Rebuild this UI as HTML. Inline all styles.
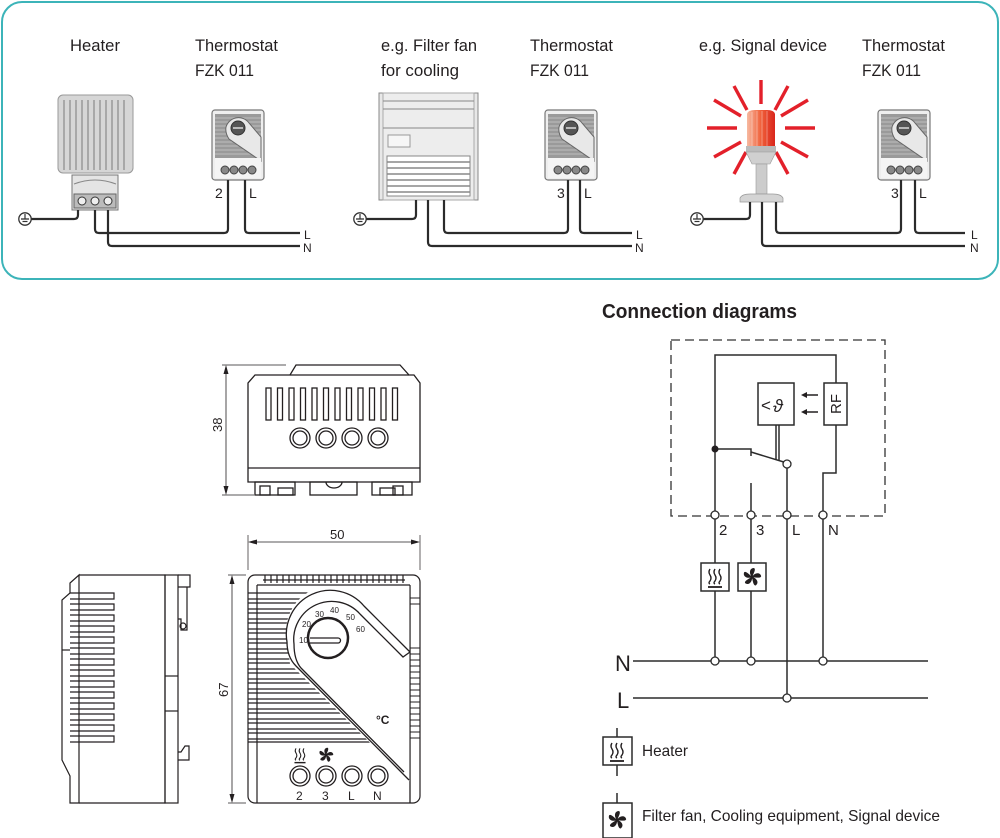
<!DOCTYPE html>
<html><head><meta charset="utf-8"><style>
html,body{margin:0;padding:0;background:#fff}
svg{display:block}
text{font-family:"Liberation Sans",sans-serif;fill:#231f20}
</style></head><body>
<svg width="1000" height="838" viewBox="0 0 1000 838" xmlns="http://www.w3.org/2000/svg">
<defs>
<linearGradient id="red" x1="0" x2="1" y1="0" y2="0">
<stop offset="0" stop-color="#f7b9a0"/><stop offset="0.5" stop-color="#f0603a"/><stop offset="1" stop-color="#d9261c"/>
</linearGradient>
<symbol id="th" viewBox="0 0 54 72" width="54" height="72">
<rect x="1" y="1" width="52" height="70" rx="3" fill="#eee" stroke="#777" stroke-width="1.2"/>
<rect x="4" y="5" width="46" height="44" fill="#9a9a9a"/>
<g stroke="#c8c8c8" stroke-width="0.8">
<line x1="4" y1="9" x2="50" y2="9"/><line x1="4" y1="13" x2="50" y2="13"/><line x1="4" y1="17" x2="50" y2="17"/><line x1="4" y1="21" x2="50" y2="21"/><line x1="4" y1="25" x2="50" y2="25"/><line x1="4" y1="29" x2="50" y2="29"/><line x1="4" y1="33" x2="50" y2="33"/><line x1="4" y1="37" x2="50" y2="37"/><line x1="4" y1="41" x2="50" y2="41"/><line x1="4" y1="45" x2="50" y2="45"/>
</g>
<path d="M18,30 Q14,24 15,18 A13 13 0 0 1 38,14 L50,28 L50,52 Z" fill="#e8e8e8" stroke="#666" stroke-width="1"/>
<circle cx="27" cy="19" r="7" fill="#555" stroke="#333"/>
<line x1="22" y1="19" x2="32" y2="19" stroke="#ddd" stroke-width="1.5"/>
<rect x="4" y="49" width="46" height="20" fill="#f4f4f4"/>
<circle cx="14" cy="61" r="4" fill="#888" stroke="#444"/><circle cx="23" cy="61" r="4" fill="#888" stroke="#444"/><circle cx="32" cy="61" r="4" fill="#888" stroke="#444"/><circle cx="41" cy="61" r="4" fill="#888" stroke="#444"/>
</symbol>
<symbol id="gnd" viewBox="-8 -8 16 16" width="16" height="16">
<circle cx="0" cy="0" r="6.2" fill="#fff" stroke="#333" stroke-width="1.3"/>
<line x1="-4" y1="0" x2="4" y2="0" stroke="#333" stroke-width="1.3"/>
<line x1="-2.5" y1="2.5" x2="2.5" y2="2.5" stroke="#333" stroke-width="1.2"/>
<line x1="0" y1="-5" x2="0" y2="0" stroke="#333" stroke-width="1.2"/>
</symbol>
<symbol id="heat" viewBox="0 0 20 24" width="20" height="24">
<g fill="none" stroke="#231f20" stroke-width="1.4">
<path d="M5,3 q-2,3 0,6 q2,3 0,6 q-2,2 0,3"/><path d="M10,3 q-2,3 0,6 q2,3 0,6 q-2,2 0,3"/><path d="M15,3 q-2,3 0,6 q2,3 0,6 q-2,2 0,3"/>
<line x1="3" y1="21" x2="17" y2="21" stroke-width="1.8"/>
</g>
</symbol>
<symbol id="fan" viewBox="-10 -10 20 20" width="20" height="20">
<g fill="#231f20">
<circle r="1.8"/>
<path d="M0,0 C-3,-3 -3,-9 2,-9 C4,-8 2,-4 0,0Z"/>
<path d="M0,0 C-3,-3 -3,-9 2,-9 C4,-8 2,-4 0,0Z" transform="rotate(72)"/>
<path d="M0,0 C-3,-3 -3,-9 2,-9 C4,-8 2,-4 0,0Z" transform="rotate(144)"/>
<path d="M0,0 C-3,-3 -3,-9 2,-9 C4,-8 2,-4 0,0Z" transform="rotate(216)"/>
<path d="M0,0 C-3,-3 -3,-9 2,-9 C4,-8 2,-4 0,0Z" transform="rotate(288)"/>
</g>
</symbol>
</defs>

<rect x="2" y="2" width="996" height="277" rx="20" fill="#fff" stroke="#3cb4b9" stroke-width="2"/>

<g font-size="17">
<text x="70" y="51" textLength="50" lengthAdjust="spacingAndGlyphs">Heater</text>
<text x="195" y="51" textLength="83" lengthAdjust="spacingAndGlyphs">Thermostat</text><text x="195" y="76" textLength="59" lengthAdjust="spacingAndGlyphs">FZK 011</text>
<text x="381" y="51" textLength="96" lengthAdjust="spacingAndGlyphs">e.g. Filter fan</text><text x="381" y="76" textLength="78" lengthAdjust="spacingAndGlyphs">for cooling</text>
<text x="530" y="51" textLength="83" lengthAdjust="spacingAndGlyphs">Thermostat</text><text x="530" y="76" textLength="59" lengthAdjust="spacingAndGlyphs">FZK 011</text>
<text x="699" y="51" textLength="128" lengthAdjust="spacingAndGlyphs">e.g. Signal device</text>
<text x="862" y="51" textLength="83" lengthAdjust="spacingAndGlyphs">Thermostat</text><text x="862" y="76" textLength="59" lengthAdjust="spacingAndGlyphs">FZK 011</text>
</g>

<rect x="58" y="95" width="75" height="78" rx="5" fill="#d6d6d6" stroke="#999"/>
<g stroke="#8a8a8a" stroke-width="1.2">
<line x1="64" y1="100" x2="64" y2="170"/><line x1="70" y1="100" x2="70" y2="170"/><line x1="76" y1="100" x2="76" y2="170"/><line x1="82" y1="100" x2="82" y2="170"/><line x1="88" y1="100" x2="88" y2="170"/><line x1="94" y1="100" x2="94" y2="170"/><line x1="100" y1="100" x2="100" y2="170"/><line x1="106" y1="100" x2="106" y2="170"/><line x1="112" y1="100" x2="112" y2="170"/><line x1="118" y1="100" x2="118" y2="170"/><line x1="124" y1="100" x2="124" y2="170"/>
</g>
<path d="M72,175 L118,175 L118,210 L72,210 Z" fill="#e4e4e4" stroke="#777"/>
<path d="M74,184 Q95,176 116,184" fill="none" stroke="#888"/>
<rect x="74" y="194" width="42" height="14" fill="#bbb" stroke="#666"/>
<g fill="#eee" stroke="#333"><circle cx="82" cy="201" r="4"/><circle cx="95" cy="201" r="4"/><circle cx="108" cy="201" r="4"/></g>

<rect x="379" y="93" width="99" height="107" fill="#e8e8e8" stroke="#888"/>
<rect x="383" y="93" width="91" height="107" fill="#ededed" stroke="#aaa"/>
<line x1="383" y1="101" x2="474" y2="101" stroke="#888"/><line x1="383" y1="109" x2="474" y2="109" stroke="#888"/><line x1="383" y1="128" x2="474" y2="128" stroke="#888"/>
<rect x="388" y="135" width="22" height="12" fill="#f6f6f6" stroke="#999"/>
<rect x="387" y="156" width="83" height="40" fill="#fff" stroke="#888"/>
<g stroke="#888" stroke-width="1.5"><line x1="387" y1="162" x2="470" y2="162"/><line x1="387" y1="168" x2="470" y2="168"/><line x1="387" y1="174" x2="470" y2="174"/><line x1="387" y1="180" x2="470" y2="180"/><line x1="387" y1="186" x2="470" y2="186"/><line x1="387" y1="192" x2="470" y2="192"/></g>

<g stroke="#e3202a" stroke-width="3.4" stroke-linecap="butt">
<line x1="761" y1="80" x2="761" y2="104"/>
<line x1="734" y1="86" x2="747" y2="110"/><line x1="788" y1="86" x2="775" y2="110"/>
<line x1="714" y1="100" x2="741" y2="116"/><line x1="808" y1="100" x2="781" y2="116"/>
<line x1="707" y1="128" x2="737" y2="128"/><line x1="815" y1="128" x2="785" y2="128"/>
<line x1="714" y1="157" x2="741" y2="142"/><line x1="808" y1="157" x2="781" y2="142"/>
<line x1="734" y1="174" x2="746" y2="152"/><line x1="788" y1="174" x2="776" y2="152"/>
</g>
<path d="M747,114 Q748,110 755,110 L767,110 Q774,110 775,114 L775,146 L747,146 Z" fill="url(#red)"/>
<g stroke="#fff" stroke-opacity="0.35"><line x1="752" y1="112" x2="752" y2="146"/><line x1="757" y1="111" x2="757" y2="146"/><line x1="762" y1="111" x2="762" y2="146"/><line x1="767" y1="111" x2="767" y2="146"/></g>
<rect x="746" y="146" width="30" height="6" fill="#bbb"/>
<path d="M746,152 L776,152 L770,164 L752,164 Z" fill="#d0d0d0" stroke="#999" stroke-width="0.6"/>
<rect x="756" y="164" width="11" height="30" fill="#ccc" stroke="#999" stroke-width="0.6"/>
<path d="M740,198 Q742,194 750,194 L773,194 Q781,194 783,198 L783,202 L740,202 Z" fill="#d4d4d4" stroke="#999" stroke-width="0.7"/>

<use href="#th" x="211" y="109"/>
<use href="#th" x="544" y="109"/>
<use href="#th" x="877" y="109"/>

<g fill="none" stroke="#2b2b2b" stroke-width="2.2">
<path d="M31,219 L74,219 Q78,219 78,215 L78,210"/>
<path d="M95,210 L95,229 Q95,233 99,233 L224,233 Q228,233 228,229 L228,180"/>
<path d="M108,210 L108,242 Q108,246 112,246 L300,246"/>
<path d="M245,180 L245,229 Q245,233 249,233 L300,233"/>
<path d="M366,219 L412,219 Q416,219 416,215 L416,200"/>
<path d="M428,200 L428,242 Q428,246 432,246 L632,246"/>
<path d="M444,200 L444,229 Q444,233 448,233 L564,233 Q568,233 568,229 L568,180"/>
<path d="M580,180 L580,229 Q580,233 584,233 L632,233"/>
<path d="M703,219 L746,219 Q750,219 750,215 L750,202"/>
<path d="M762,202 L762,242 Q762,246 766,246 L965,246"/>
<path d="M776,202 L776,229 Q776,233 780,233 L897,233 Q901,233 901,229 L901,180"/>
<path d="M915,180 L915,229 Q915,233 919,233 L965,233"/>
</g>
<use href="#gnd" x="17" y="211"/><use href="#gnd" x="352" y="211"/><use href="#gnd" x="689" y="211"/>
<g font-size="14">
<text x="215" y="198">2</text><text x="249" y="198">L</text>
<text x="557" y="198">3</text><text x="584" y="198">L</text>
<text x="891" y="198">3</text><text x="919" y="198">L</text>
</g>
<g font-size="12">
<text x="304" y="239">L</text><text x="303" y="252">N</text>
<text x="636" y="239">L</text><text x="635" y="252">N</text>
<text x="971" y="239">L</text><text x="970" y="252">N</text>
</g>

<text x="602" y="318" font-size="20" font-weight="bold" textLength="195" lengthAdjust="spacingAndGlyphs">Connection diagrams</text>
<rect x="671" y="340" width="214" height="176" fill="none" stroke="#333" stroke-width="1.3" stroke-dasharray="9,5"/>
<g fill="none" stroke="#2b2b2b" stroke-width="1.5">
<path d="M715,449 L715,355 L836,355 L836,383"/>
<rect x="824" y="383" width="23" height="42"/>
<rect x="758" y="383" width="36" height="42"/>
<path d="M836,425 L836,473 L823,473 L823,515"/>
<path d="M715,449 L751,449 L751,456"/>
<line x1="751" y1="452" x2="787" y2="463"/>
<line x1="776" y1="425" x2="776" y2="460"/><line x1="779" y1="425" x2="779" y2="460"/>
<line x1="787" y1="468" x2="787" y2="511"/>
<line x1="751" y1="483" x2="751" y2="511"/>
<line x1="715" y1="449" x2="715" y2="511"/>
<line x1="715" y1="519" x2="715" y2="563"/><line x1="715" y1="591" x2="715" y2="657"/>
<line x1="751" y1="519" x2="751" y2="563"/><line x1="751" y1="591" x2="751" y2="657"/>
<line x1="787" y1="519" x2="787" y2="694"/>
<line x1="823" y1="519" x2="823" y2="657"/>
<line x1="633" y1="661" x2="928" y2="661"/>
<line x1="633" y1="698" x2="928" y2="698"/>
<rect x="701" y="563" width="28" height="28"/>
<rect x="738" y="563" width="28" height="28"/>
<line x1="617" y1="728" x2="617" y2="737"/><line x1="617" y1="765" x2="617" y2="776"/>
<rect x="603" y="737" width="29" height="28"/>
<line x1="617" y1="793" x2="617" y2="803"/>
<rect x="603" y="803" width="29" height="35"/>
</g>
<circle cx="715" cy="449" r="3.5" fill="#231f20"/>
<g fill="#fff" stroke="#2b2b2b" stroke-width="1.3">
<circle cx="787" cy="464" r="4"/>
<circle cx="715" cy="515" r="4"/><circle cx="751" cy="515" r="4"/><circle cx="787" cy="515" r="4"/><circle cx="823" cy="515" r="4"/>
<circle cx="715" cy="661" r="4"/><circle cx="751" cy="661" r="4"/><circle cx="823" cy="661" r="4"/>
<circle cx="787" cy="698" r="4"/>
</g>
<g stroke="#231f20" stroke-width="1.5"><line x1="806" y1="395" x2="818" y2="395"/><line x1="806" y1="412" x2="818" y2="412"/></g>
<g fill="#231f20"><path d="M801,395 l6,-3 v6z"/><path d="M801,412 l6,-3 v6z"/></g>
<text x="761" y="411" font-size="17">&lt;</text>
<text x="773" y="412" font-size="18" font-style="italic">ϑ</text>
<text x="0" y="0" font-size="15" transform="translate(841,414) rotate(-90)">RF</text>
<g font-size="15">
<text x="719" y="535">2</text><text x="756" y="535">3</text><text x="792" y="535">L</text><text x="828" y="535">N</text>
</g>
<text x="615" y="671" font-size="22">N</text>
<text x="617" y="708" font-size="22">L</text>
<use href="#heat" x="705" y="566"/>
<use href="#fan" x="742" y="567"/>
<use href="#heat" x="607" y="740"/>
<use href="#fan" x="607" y="810"/>
<text x="642" y="756" font-size="16" textLength="46" lengthAdjust="spacingAndGlyphs">Heater</text>
<text x="642" y="821" font-size="16" textLength="298" lengthAdjust="spacingAndGlyphs">Filter fan, Cooling equipment, Signal device</text>

<g fill="none" stroke="#231f20" stroke-width="1.3">
<line x1="222" y1="365" x2="286" y2="365" stroke-width="0.7"/>
<line x1="222" y1="495" x2="254" y2="495" stroke-width="0.7"/>
<line x1="226" y1="367" x2="226" y2="493" stroke-width="0.8"/>
<path d="M248,468 L248,383 L255,375 L290,375 L296,365 L400,365 L409,375 L414,375 L420,383 L420,482 L248,482 Z"/>
<line x1="248" y1="468" x2="420" y2="468"/>
<line x1="290" y1="375" x2="409" y2="375"/>
<rect x="266" y="388" width="5" height="32"/><rect x="277.5" y="388" width="5" height="32"/><rect x="289" y="388" width="5" height="32"/><rect x="300.5" y="388" width="5" height="32"/><rect x="312" y="388" width="5" height="32"/><rect x="323.5" y="388" width="5" height="32"/><rect x="335" y="388" width="5" height="32"/><rect x="346.5" y="388" width="5" height="32"/><rect x="358" y="388" width="5" height="32"/><rect x="369.5" y="388" width="5" height="32"/><rect x="381" y="388" width="5" height="32"/><rect x="392.5" y="388" width="5" height="32"/>
<circle cx="300" cy="438" r="10"/><circle cx="300" cy="438" r="7"/>
<circle cx="326" cy="438" r="10"/><circle cx="326" cy="438" r="7"/>
<circle cx="352" cy="438" r="10"/><circle cx="352" cy="438" r="7"/>
<circle cx="378" cy="438" r="10"/><circle cx="378" cy="438" r="7"/>
<rect x="255" y="482" width="40" height="13"/><rect x="260" y="486" width="10" height="9"/><rect x="278" y="488" width="15" height="7"/>
<rect x="310" y="482" width="47" height="13"/><path d="M326,482 a8,6 0 0 0 16,0"/>
<rect x="372" y="482" width="40" height="13"/><rect x="393" y="486" width="10" height="9"/><rect x="380" y="488" width="15" height="7"/>
<line x1="248" y1="535" x2="248" y2="570" stroke-width="0.7"/>
<line x1="420" y1="535" x2="420" y2="570" stroke-width="0.7"/>
<line x1="250" y1="542" x2="418" y2="542" stroke-width="0.8"/>
<line x1="228" y1="575" x2="246" y2="575" stroke-width="0.7"/>
<line x1="228" y1="803" x2="246" y2="803" stroke-width="0.7"/>
<line x1="232" y1="577" x2="232" y2="801" stroke-width="0.8"/>
</g>
<g fill="#231f20">
<path d="M226,365 l-2.5,9 h5z"/><path d="M226,495 l-2.5,-9 h5z"/>
<path d="M248,542 l9,-2.5 v5z"/><path d="M420,542 l-9,-2.5 v5z"/>
<path d="M232,575 l-2.5,9 h5z"/><path d="M232,803 l-2.5,-9 h5z"/>
</g>
<text x="0" y="0" font-size="13" transform="translate(222,432) rotate(-90)">38</text>
<text x="0" y="0" font-size="13" transform="translate(228,697) rotate(-90)">67</text>
<text x="330" y="539" font-size="13">50</text>

<g fill="none" stroke="#231f20" stroke-width="1.2">
<rect x="248" y="575" width="172" height="228" rx="7"/>
<line x1="257" y1="585" x2="410" y2="585"/>
<line x1="257" y1="585" x2="257" y2="803"/><line x1="410" y1="585" x2="410" y2="803"/>
<path d="M265,575 v8 M271,575 v8 M277,575 v8 M283,575 v8 M289,575 v8 M295,575 v8 M301,575 v8 M307,575 v8 M313,575 v8 M319,575 v8 M325,575 v8 M331,575 v8 M337,575 v8 M343,575 v8 M349,575 v8 M355,575 v8 M361,575 v8 M367,575 v8 M373,575 v8 M379,575 v8 M385,575 v8 M391,575 v8 M397,575 v8 M403,575 v8"/>
<line x1="263" y1="580" x2="405" y2="580"/>
</g>
<g stroke="#231f20" stroke-width="1.2">
<line x1="248" y1="593" x2="410" y2="593"/><line x1="248" y1="599" x2="410" y2="599"/>
<line x1="248" y1="603" x2="410" y2="603"/><line x1="248" y1="609" x2="410" y2="609"/>
<line x1="248" y1="613" x2="410" y2="613"/><line x1="248" y1="619" x2="410" y2="619"/>
<line x1="248" y1="623" x2="410" y2="623"/><line x1="248" y1="629" x2="410" y2="629"/>
<line x1="248" y1="633" x2="410" y2="633"/><line x1="248" y1="639" x2="410" y2="639"/>
<line x1="248" y1="643" x2="410" y2="643"/><line x1="248" y1="649" x2="410" y2="649"/>
<line x1="248" y1="653" x2="410" y2="653"/><line x1="248" y1="659" x2="410" y2="659"/>
<line x1="248" y1="663" x2="410" y2="663"/><line x1="248" y1="669" x2="410" y2="669"/>
<line x1="248" y1="673" x2="410" y2="673"/><line x1="248" y1="679" x2="410" y2="679"/>
<line x1="248" y1="683" x2="410" y2="683"/><line x1="248" y1="689" x2="410" y2="689"/>
<line x1="248" y1="693" x2="410" y2="693"/><line x1="248" y1="699" x2="410" y2="699"/>
<line x1="248" y1="703" x2="410" y2="703"/><line x1="248" y1="709" x2="410" y2="709"/>
<line x1="248" y1="713" x2="410" y2="713"/><line x1="248" y1="719" x2="410" y2="719"/>
<line x1="248" y1="723" x2="410" y2="723"/><line x1="248" y1="729" x2="410" y2="729"/>
<line x1="248" y1="733" x2="410" y2="733"/><line x1="248" y1="739" x2="410" y2="739"/>
<line x1="248" y1="742" x2="410" y2="742"/>
</g>
<path d="M290,664 L410,782 L410,586 L332,586 A45 45 0 0 0 287,640 Z" fill="#fff"/>
<g stroke="#231f20" stroke-width="1.1"><line x1="410" y1="586" x2="410" y2="803"/>
<path d="M410,598 h10 M410,604 h10 M410,648 h10 M410,654 h10 M410,660 h10 M410,666 h10 M410,672 h10 M410,678 h10 M410,684 h10 M410,690 h10 M410,696 h10 M410,702 h10 M410,708 h10 M410,714 h10 M410,720 h10 M410,726 h10 M410,732 h10 M410,738 h10" />
</g>
<g fill="none" stroke="#231f20" stroke-width="1.3">
<path d="M409,780 L296,666 Q287,657 287,642 A44 44 0 0 1 364,606 L410,652"/>
<path d="M404,772 L301,668 Q294,660 294,644 A38 38 0 0 1 360,614 L403,657 L410,652"/>
<circle cx="328" cy="638" r="20" stroke-width="2.5"/>
<path d="M310,638 h28 a2.5 2.5 0 0 1 0,5 h-28" stroke-width="1.3"/>
<circle cx="300" cy="776" r="10"/><circle cx="300" cy="776" r="7"/>
<circle cx="326" cy="776" r="10"/><circle cx="326" cy="776" r="7"/>
<circle cx="352" cy="776" r="10"/><circle cx="352" cy="776" r="7"/>
<circle cx="378" cy="776" r="10"/><circle cx="378" cy="776" r="7"/>
</g>
<g font-size="8">
<text x="299" y="643">10</text><text x="302" y="627">20</text><text x="315" y="617">30</text><text x="330" y="613">40</text><text x="346" y="620">50</text><text x="356" y="632">60</text>
</g>
<text x="376" y="724" font-size="12" font-weight="bold">°C</text>
<use href="#heat" x="292" y="746" width="16" height="19"/>
<use href="#fan" x="318" y="747" width="16" height="16"/>
<g font-size="12"><text x="296" y="800">2</text><text x="322" y="800">3</text><text x="348" y="800">L</text><text x="373" y="800">N</text></g>

<g fill="none" stroke="#231f20" stroke-width="1.2">
<path d="M79,575 L79,803 L70,803 L70,776 L62,760 L62,600 L70,593 L70,583 Z"/>
<path d="M79,575 L165,575 L165,803 L79,803"/>
<rect x="165" y="575" width="13" height="228"/>
<line x1="165" y1="676" x2="178" y2="676"/><line x1="165" y1="711" x2="178" y2="711"/>
<path d="M178,575 h12 v12 h-12 M178,587 h9 v43 h-6 v-11 h-3"/>
<circle cx="183" cy="626" r="3"/>
<path d="M178,752 h3 l4,-6 h4 v14 h-11"/>
<line x1="62" y1="650" x2="70" y2="650"/>
<path d="M70,593 h44 v6 h-44 M70,604 h44 v6 h-44 M70,615 h44 v6 h-44 M70,626 h44 v6 h-44 M70,637 h44 v6 h-44 M70,648 h44 v6 h-44 M70,659 h44 v6 h-44 M70,670 h44 v6 h-44 M70,681 h44 v6 h-44 M70,692 h44 v6 h-44 M70,703 h44 v6 h-44 M70,714 h44 v6 h-44 M70,725 h44 v6 h-44 M70,736 h44 v6 h-44"/>
</g>
</svg>
</body></html>
